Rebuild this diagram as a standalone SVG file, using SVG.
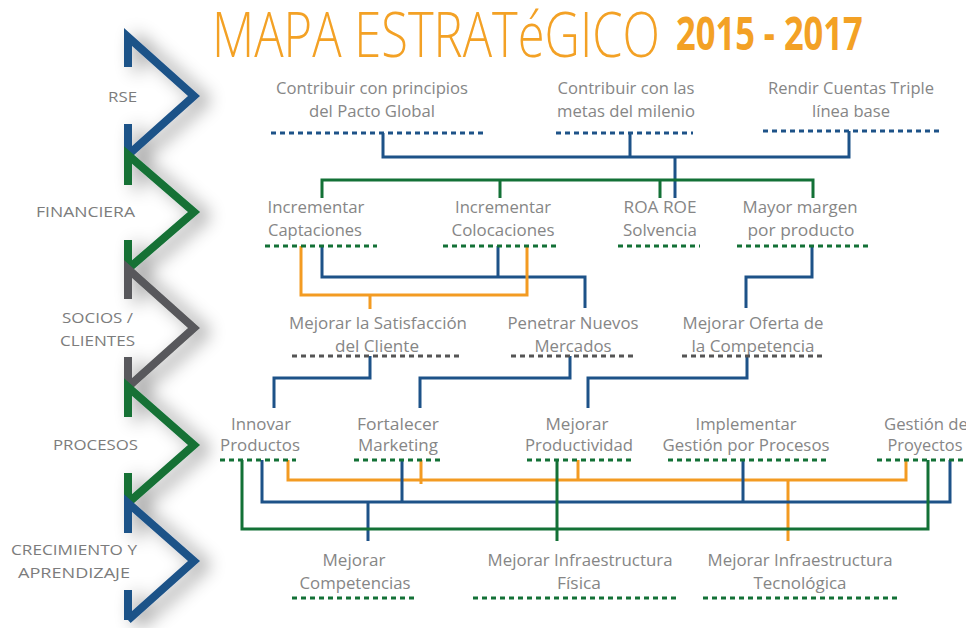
<svg xmlns="http://www.w3.org/2000/svg" width="966" height="628" viewBox="0 0 966 628">
<style>
.t{font-family:"Open Sans","Noto Sans",sans-serif;font-size:15.5px;fill:#868686;text-anchor:middle}
.l{font-family:"Open Sans","Noto Sans",sans-serif;font-size:14px;fill:#7c7c7c}
.c{fill:none;stroke-width:3;stroke-linejoin:miter}
.b{stroke:#1d5288}.g{stroke:#137136}.o{stroke:#f39b22}.k{stroke:#555}
.d{fill:none;stroke-width:3;stroke-dasharray:5 4}
.ch{fill:none;stroke-width:8;stroke-linejoin:miter;stroke-linecap:butt}
.ttl{font-family:"Open Sans","Noto Sans",sans-serif;fill:#f3a125}
</style>
<defs>
<filter id="sh" x="-50%" y="-20%" width="250%" height="140%">
<feDropShadow dx="10" dy="4" stdDeviation="9" flood-color="#000" flood-opacity="0.45"/>
</filter>
</defs>
<rect width="966" height="628" fill="#fff"/>
<g id="title">
<text class="ttl" transform="translate(212,57) scale(0.8,1)" x="0" y="0" font-size="62" font-weight="300" textLength="560" lengthAdjust="spacingAndGlyphs">MAPA ESTRATéGICO</text>
<text class="ttl" transform="translate(676,50) scale(0.75,1)" x="0" y="0" font-size="46" font-weight="700" textLength="249" lengthAdjust="spacingAndGlyphs">2015 - 2017</text>
</g>
<g id="chevrons" filter="url(#sh)">
<path class="ch" stroke="#1d5288" d="M128,67 V37 L194,96 L128,155 M128,124 V155"/>
<path class="ch" stroke="#137136" d="M128,185 V155 L194,212 L128,269 M128,240 V269"/>
<path class="ch" stroke="#58595b" d="M128,299 V269 L194,328 L128,387 M128,357 V387"/>
<path class="ch" stroke="#137136" d="M128,417 V387 L194,445 L128,503 M128,473 V503"/>
<path class="ch" stroke="#1d5288" d="M128,533 V503 L194,561 L128,620 M128,590 V620"/>
</g>
<g id="labels">
<text class="l" x="108" y="102" textLength="29" lengthAdjust="spacingAndGlyphs">RSE</text>
<text class="l" x="36" y="217" textLength="99" lengthAdjust="spacingAndGlyphs">FINANCIERA</text>
<text class="l" x="62" y="323" textLength="71" lengthAdjust="spacingAndGlyphs">SOCIOS /</text>
<text class="l" x="60" y="346" textLength="75" lengthAdjust="spacingAndGlyphs">CLIENTES</text>
<text class="l" x="53" y="450" textLength="85" lengthAdjust="spacingAndGlyphs">PROCESOS</text>
<text class="l" x="11" y="555" textLength="126" lengthAdjust="spacingAndGlyphs">CRECIMIENTO Y</text>
<text class="l" x="18" y="578" textLength="112" lengthAdjust="spacingAndGlyphs">APRENDIZAJE</text>
</g>
<g id="connectors">
<path class="c b" d="M383,133 V157 H849 V131 M630,133 V157 M675,157 V198"/>
<path class="c g" d="M322,198 V180 H813 V198 M500,180 V198 M660,180 V198"/>
<path class="c b" d="M322,246 V277 H585 V308 M498,246 V277"/>
<path class="c o" d="M301,246 V295 H527 V246 M370,295 V309"/>
<path class="c b" d="M812,246 V277 H746 V308"/>
<path class="c b" d="M370,356 V378 H274 V408"/>
<path class="c b" d="M570,356 V378 H420 V408"/>
<path class="c b" d="M747,356 V378 H588 V408"/>
<path class="c o" d="M288,460 V480 H906 V460 M421,460 V484 M578,460 V480 M788,480 V541"/>
<path class="c b" d="M262,460 V502 H950 V460 M402,460 V502 M743,460 V502 M368,502 V541"/>
<path class="c g" d="M242,460 V529 H928 V460 M557,460 V541"/>
</g>
<g id="n-rse1"><text class="t" x="372" y="94" textLength="192" lengthAdjust="spacingAndGlyphs">Contribuir con principios</text><text class="t" x="372" y="117" textLength="126" lengthAdjust="spacingAndGlyphs">del Pacto Global</text><path class="d b" d="M271,133 H487"/></g>
<g id="n-rse2"><text class="t" x="626" y="94" textLength="137" lengthAdjust="spacingAndGlyphs">Contribuir con las</text><text class="t" x="626" y="117" textLength="138" lengthAdjust="spacingAndGlyphs">metas del milenio</text><path class="d b" d="M556,133 H693"/></g>
<g id="n-rse3"><text class="t" x="851" y="94" textLength="166" lengthAdjust="spacingAndGlyphs">Rendir Cuentas Triple</text><text class="t" x="851" y="117" textLength="78" lengthAdjust="spacingAndGlyphs">línea base</text><path class="d b" d="M763,131 H943"/></g>
<g id="n-fin1"><text class="t" x="316" y="213" textLength="97" lengthAdjust="spacingAndGlyphs">Incrementar</text><text class="t" x="315" y="236" textLength="94" lengthAdjust="spacingAndGlyphs">Captaciones</text><path class="d g" d="M265,246 H377"/></g>
<g id="n-fin2"><text class="t" x="503" y="213" textLength="96" lengthAdjust="spacingAndGlyphs">Incrementar</text><text class="t" x="503" y="236" textLength="103" lengthAdjust="spacingAndGlyphs">Colocaciones</text><path class="d g" d="M443,246 H560"/></g>
<g id="n-fin3"><text class="t" x="660" y="213" textLength="73" lengthAdjust="spacingAndGlyphs">ROA ROE</text><text class="t" x="660" y="236" textLength="74" lengthAdjust="spacingAndGlyphs">Solvencia</text><path class="d g" d="M618,246 H700"/></g>
<g id="n-fin4"><text class="t" x="800" y="213" textLength="115" lengthAdjust="spacingAndGlyphs">Mayor margen</text><text class="t" x="801" y="236" textLength="107" lengthAdjust="spacingAndGlyphs">por producto</text><path class="d g" d="M737,246 H868"/></g>
<g id="n-soc1"><text class="t" x="378" y="329" textLength="178" lengthAdjust="spacingAndGlyphs">Mejorar la Satisfacción</text><text class="t" x="377" y="352" textLength="84" lengthAdjust="spacingAndGlyphs">del Cliente</text><path class="d k" d="M292,356 H461"/></g>
<g id="n-soc2"><text class="t" x="573" y="329" textLength="131" lengthAdjust="spacingAndGlyphs">Penetrar Nuevos</text><text class="t" x="573" y="352" textLength="77" lengthAdjust="spacingAndGlyphs">Mercados</text><path class="d k" d="M511,356 H634"/></g>
<g id="n-soc3"><text class="t" x="753" y="329" textLength="141" lengthAdjust="spacingAndGlyphs">Mejorar Oferta de</text><text class="t" x="753" y="352" textLength="123" lengthAdjust="spacingAndGlyphs">la Competencia</text><path class="d k" d="M682,356 H826"/></g>
<g id="n-pro1"><text class="t" x="261" y="430" textLength="60" lengthAdjust="spacingAndGlyphs">Innovar</text><text class="t" x="260" y="451" textLength="80" lengthAdjust="spacingAndGlyphs">Productos</text><path class="d g" d="M220,460 H296"/></g>
<g id="n-pro2"><text class="t" x="398" y="430" textLength="82" lengthAdjust="spacingAndGlyphs">Fortalecer</text><text class="t" x="398" y="451" textLength="80" lengthAdjust="spacingAndGlyphs">Marketing</text><path class="d g" d="M354,460 H440"/></g>
<g id="n-pro3"><text class="t" x="577" y="430" textLength="63" lengthAdjust="spacingAndGlyphs">Mejorar</text><text class="t" x="579" y="451" textLength="108" lengthAdjust="spacingAndGlyphs">Productividad</text><path class="d g" d="M527,460 H631"/></g>
<g id="n-pro4"><text class="t" x="746" y="430" textLength="101" lengthAdjust="spacingAndGlyphs">Implementar</text><text class="t" x="746" y="451" textLength="167" lengthAdjust="spacingAndGlyphs">Gestión por Procesos</text><path class="d g" d="M668,460 H826"/></g>
<g id="n-pro5"><text class="t" x="926" y="430" textLength="84" lengthAdjust="spacingAndGlyphs">Gestión de</text><text class="t" x="925" y="451" textLength="75" lengthAdjust="spacingAndGlyphs">Proyectos</text><path class="d g" d="M877,460 H966"/></g>
<g id="n-cre1"><text class="t" x="354" y="566" textLength="63" lengthAdjust="spacingAndGlyphs">Mejorar</text><text class="t" x="355" y="589" textLength="111" lengthAdjust="spacingAndGlyphs">Competencias</text><path class="d g" d="M292,598 H415"/></g>
<g id="n-cre2"><text class="t" x="580" y="566" textLength="185" lengthAdjust="spacingAndGlyphs">Mejorar Infraestructura</text><text class="t" x="579" y="589" textLength="44" lengthAdjust="spacingAndGlyphs">Física</text><path class="d g" d="M473,598 H678"/></g>
<g id="n-cre3"><text class="t" x="800" y="566" textLength="185" lengthAdjust="spacingAndGlyphs">Mejorar Infraestructura</text><text class="t" x="800" y="589" textLength="93" lengthAdjust="spacingAndGlyphs">Tecnológica</text><path class="d g" d="M703,598 H897"/></g>
</svg>
